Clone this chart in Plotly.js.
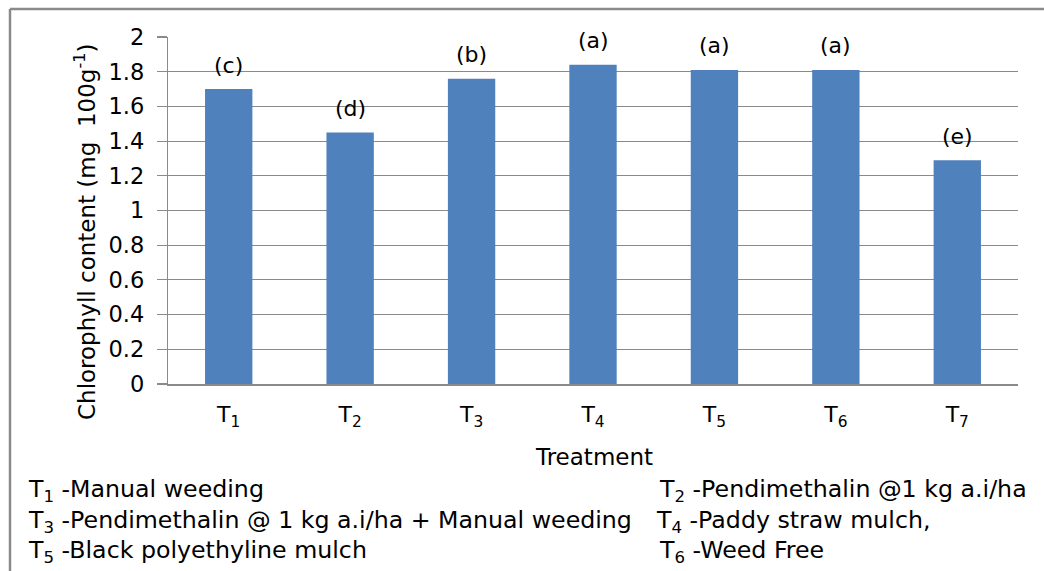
<!DOCTYPE html>
<html><head><meta charset="utf-8">
<script src="https://cdn.plot.ly/plotly-3.0.1.min.js"></script>
<style>html,body{margin:0;padding:0;background:#fff;}#chart{width:1044px;height:571px;}</style>
</head><body><div id="chart"></div>
<script>
const categories = ['T1','T2','T3','T4','T5','T6','T7'];
const tickLabels = ['T<sub>1</sub>','T<sub>2</sub>','T<sub>3</sub>','T<sub>4</sub>','T<sub>5</sub>','T<sub>6</sub>','T<sub>7</sub>'];
const values = [1.70, 1.45, 1.76, 1.84, 1.81, 1.81, 1.29];
const groupLetters = ['(c)','(d)','(b)','(a)','(a)','(a)','(e)'];
const legendLeft = ['T<sub>1</sub> -Manual weeding','T<sub>3</sub> -Pendimethalin @ 1 kg a.i/ha + Manual weeding','T<sub>5</sub> -Black polyethyline mulch'];
const legendRight = ['T<sub>2</sub> -Pendimethalin @1 kg a.i/ha','T<sub>4</sub> -Paddy straw mulch,','T<sub>6</sub> -Weed Free'];

const L = 168, R = 1018, T = 37, B = 384;
const px = x => (x - L) / (R - L);
const py = y => (B - y) / (B - T);
const font = 'DejaVu Sans, Verdana, sans-serif';

const annotations = [];
categories.forEach((c, i) => {
  annotations.push({x: c, y: values[i], xref: 'x', yref: 'y', text: groupLetters[i], showarrow: false,
    yanchor: 'middle', yshift: 24, font: {family: font, size: 22, color: '#000'}});
});
const leftY = [490, 521, 551];
const rightX = [657, 654, 657];
legendLeft.forEach((t, i) => annotations.push({x: px(26), y: py(leftY[i]), xref: 'paper', yref: 'paper', text: t,
  showarrow: false, xanchor: 'left', yanchor: 'middle', font: {family: font, size: 23.7, color: '#000'}}));
legendRight.forEach((t, i) => annotations.push({x: px(rightX[i]), y: py(leftY[i]), xref: 'paper', yref: 'paper', text: t,
  showarrow: false, xanchor: 'left', yanchor: 'middle', font: {family: font, size: 23.7, color: '#000'}}));
annotations.push({x: px(85), y: py(232), xref: 'paper', yref: 'paper', text: 'Chlorophyll content (mg  100g<sup>-1</sup>)',
  textangle: -90, showarrow: false, xanchor: 'center', yanchor: 'middle', font: {family: font, size: 23, color: '#000'}});
annotations.push({x: px(594), y: py(457), xref: 'paper', yref: 'paper', text: 'Treatment',
  showarrow: false, xanchor: 'center', yanchor: 'middle', font: {family: font, size: 23, color: '#000'}});

const shapes = [
  {type: 'line', xref: 'paper', yref: 'paper', x0: px(10), x1: px(1044), y0: py(9), y1: py(9), line: {color: '#8a8a8a', width: 2.5}},
  {type: 'line', xref: 'paper', yref: 'paper', x0: px(10), x1: px(10), y0: py(9), y1: py(571), line: {color: '#8a8a8a', width: 2.5}}
];

Plotly.newPlot('chart', [{
  type: 'bar', x: categories, y: values, marker: {color: '#4f81bd'}, hoverinfo: 'none'
}], {
  width: 1044, height: 571,
  margin: {l: L, r: 1044 - R, t: T, b: 571 - B, pad: 0},
  paper_bgcolor: '#fff', plot_bgcolor: '#fff',
  showlegend: false, bargap: 0.61,
  font: {family: font, color: '#000'},
  xaxis: {tickmode: 'array', tickvals: categories, ticktext: tickLabels, showgrid: false, showline: true,
    linecolor: '#8a8a8a', linewidth: 1.5, ticks: '', tickfont: {size: 22, color: '#000'}, ticklabelstandoff: 10},
  yaxis: {range: [0, 2], tickvals: [0,0.2,0.4,0.6,0.8,1,1.2,1.4,1.6,1.8,2], ticktext: ['0','0.2','0.4','0.6','0.8','1','1.2','1.4','1.6','1.8','2'],
    showgrid: true, gridcolor: '#8a8a8a', gridwidth: 1.2, zeroline: false, showline: true, linecolor: '#8a8a8a', linewidth: 1.2,
    ticks: 'outside', ticklen: 10, tickcolor: '#8a8a8a', tickwidth: 1.2, tickfont: {size: 22.5, color: '#000'}, ticklabelstandoff: 8},
  annotations: annotations, shapes: shapes
}, {staticPlot: true});
</script></body></html>
